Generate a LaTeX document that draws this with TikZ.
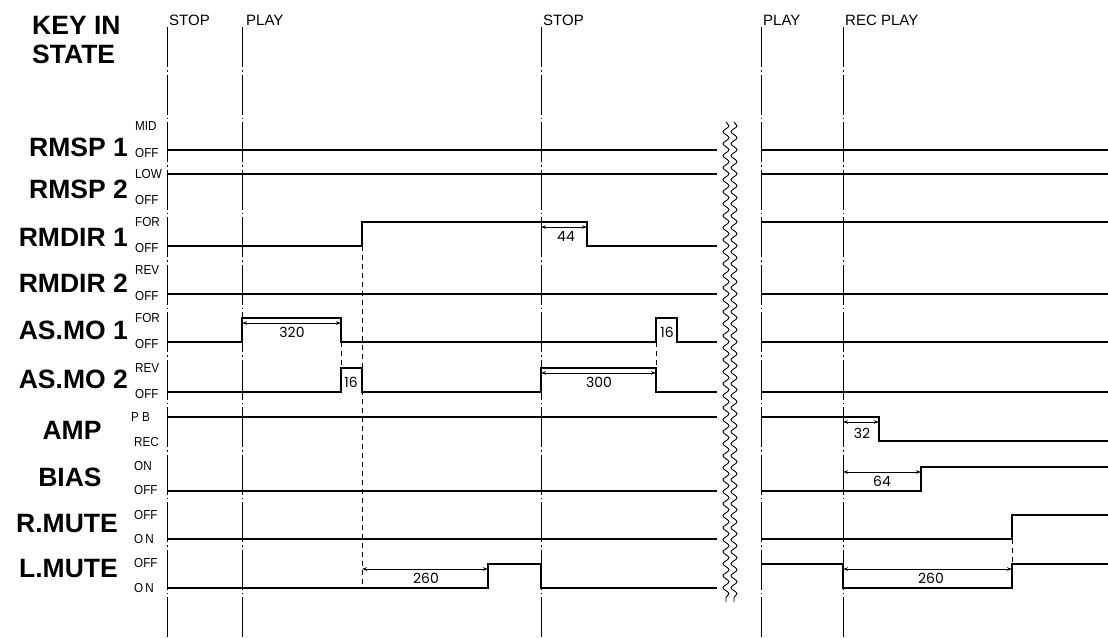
\documentclass[tikz,border=0pt]{standalone}
\usepackage{fontspec}
\setmainfont{Liberation Sans}
\newfontfamily\numfont{Poppins}
\newfontfamily\lvlfont[FakeStretch=0.9]{Liberation Sans}
\usetikzlibrary{arrows.meta,decorations.pathmorphing}
\begin{document}
\begin{tikzpicture}[x=1pt,y=-1pt,
  sig/.style={line width=2pt, line join=miter},
  keyline/.style={line width=0.9pt, dash pattern=on 40pt off 3pt on 1.5pt off 3pt},
  guide/.style={line width=0.9pt, dash pattern=on 5pt off 4pt},
  dim/.style={line width=0.9pt, {Stealth[length=5pt,width=3.5pt]}-{Stealth[length=5pt,width=3.5pt]}},
  biglab/.style={font=\fontsize{26.5}{28}\selectfont\bfseries, inner sep=0pt},
  lvl/.style={font=\lvlfont\fontsize{13}{14}\selectfont, inner sep=0pt, anchor=west},
  keylab/.style={font=\fontsize{15}{16}\selectfont, inner sep=0pt, anchor=base west},
  num/.style={font=\numfont\fontsize{14}{15}\selectfont, inner sep=0pt},
  wave/.style={line width=0.9pt, decorate, decoration={snake, segment length=12pt, amplitude=3pt}}
]
\useasboundingbox (0,0) rectangle (1108,637);

% ---- key-in state labels and chain lines
\node[keylab] (kstop1) at (169,25) {STOP};
\node[keylab] (kplay1) at (246,25) {PLAY};
\node[keylab] (kstop2) at (543,25) {STOP};
\node[keylab] (kplay2) at (763,25) {PLAY};
\node[keylab] (krec)   at (845,25) {REC PLAY};
\foreach \x/\n in {167/a,242/b,541/c,761/d,843/e}{
  \coordinate (top\n) at (\x,27);
  \coordinate (bot\n) at (\x,637);
  \draw[keyline] (top\n) -- (bot\n);
}

% ---- left titles
\node[biglab, anchor=west] (key)   at (32,25) {KEY IN};
\node[biglab, anchor=west] (state) at (32,54) {STATE};
\node[biglab, anchor=east] (n1) at (128,147) {RMSP 1};
\node[biglab, anchor=east] (n2) at (128,189) {RMSP 2};
\node[biglab, anchor=east] (n3) at (128,237) {RMDIR 1};
\node[biglab, anchor=east] (n4) at (128,283) {RMDIR 2};
\node[biglab, anchor=east] (n5) at (128,330) {AS.MO 1};
\node[biglab, anchor=east] (n6) at (128,379) {AS.MO 2};
\node[biglab] (n7) at (72,430) {AMP};
\node[biglab] (n8) at (70,477) {BIAS};
\node[biglab, anchor=east] (n9) at (118,524) {R.MUTE};
\node[biglab, anchor=east] (n10) at (118,569) {L.MUTE};

% ---- level labels
\node[lvl] (h1) at (135,126) {MID};   \node[lvl] (o1) at (135,153) {OFF};
\node[lvl] (h2) at (135,174) {LOW};   \node[lvl] (o2) at (135,200) {OFF};
\node[lvl] (h3) at (135,222) {FOR};   \node[lvl] (o3) at (135,248) {OFF};
\node[lvl] (h4) at (135,270) {REV};   \node[lvl] (o4) at (135,296) {OFF};
\node[lvl] (h5) at (135,318) {FOR};   \node[lvl] (o5) at (135,344) {OFF};
\node[lvl] (h6) at (135,368) {REV};   \node[lvl] (o6) at (135,394) {OFF};
\node[lvl] (h7) at (131,417) {P\hspace{3pt}B}; \node[lvl] (o7) at (134,442) {REC};
\node[lvl] (h8) at (134,466) {ON};    \node[lvl] (o8) at (134,490) {OFF};
\node[lvl] (h9) at (134,515) {OFF};   \node[lvl] (o9) at (134,539) {O\hspace{2pt}N};
\node[lvl] (h10) at (134,563) {OFF};  \node[lvl] (o10) at (134,588) {O\hspace{2pt}N};

% ---- guide dashed lines
\draw[guide] (362,246) -- (362,588);
\draw[guide] (341,342) -- (341,368);
\draw[guide] (656,342) -- (656,368);
\draw[guide] (1012,539) -- (1012,564);

% ---- signals (left part)
\draw[sig] (167,150) -- (717,150);
\draw[sig] (167,174) -- (717,174);
\draw[sig] (167,246) -- (362,246) -- (362,222) -- (587,222) -- (587,246) -- (717,246);
\draw[sig] (167,294) -- (717,294);
\draw[sig] (167,342) -- (242,342) -- (242,318) -- (341,318) -- (341,342) -- (656,342) -- (656,318) -- (677,318) -- (677,342) -- (717,342);
\draw[sig] (167,392) -- (341,392) -- (341,368) -- (362,368) -- (362,392) -- (541,392) -- (541,368) -- (656,368) -- (656,392) -- (717,392);
\draw[sig] (167,417) -- (717,417);
\draw[sig] (167,491) -- (717,491);
\draw[sig] (167,539) -- (717,539);
\draw[sig] (167,588) -- (488,588) -- (488,564) -- (541,564) -- (541,588) -- (717,588);

% ---- signals (right part)
\draw[sig] (761,150) -- (1108,150);
\draw[sig] (761,174) -- (1108,174);
\draw[sig] (761,222) -- (1108,222);
\draw[sig] (761,294) -- (1108,294);
\draw[sig] (761,342) -- (1108,342);
\draw[sig] (761,392) -- (1108,392);
\draw[sig] (761,417) -- (879,417) -- (879,441) -- (1108,441);
\draw[sig] (761,491) -- (921,491) -- (921,467) -- (1108,467);
\draw[sig] (761,539) -- (1012,539) -- (1012,515) -- (1108,515);
\draw[sig] (761,564) -- (843,564) -- (843,588) -- (1012,588) -- (1012,564) -- (1108,564);

% ---- break mark
\draw[wave] (726,122) -- (726,602);
\draw[wave] (734,122) -- (734,602);

% ---- dimensions
\coordinate (d1a) at (541,227); \coordinate (d1b) at (587,227);
\draw[dim] (d1a) -- (d1b);
\node[num] (t44) at (566,236) {44};
\coordinate (d2a) at (242,323); \coordinate (d2b) at (341,323);
\draw[dim] (d2a) -- (d2b);
\node[num] (t320) at (292,332) {320};
\coordinate (d3a) at (541,373); \coordinate (d3b) at (656,373);
\draw[dim] (d3a) -- (d3b);
\node[num] (t300) at (599,382) {300};
\node[num] (t16a) at (351,382) {16};
\node[num] (t16b) at (667,332) {16};
\coordinate (d4a) at (362,569); \coordinate (d4b) at (488,569);
\draw[dim] (d4a) -- (d4b);
\node[num] (t260a) at (426,578) {260};
\coordinate (d5a) at (843,422); \coordinate (d5b) at (879,422);
\draw[dim] (d5a) -- (d5b);
\node[num] (t32) at (862,433) {32};
\coordinate (d6a) at (843,472); \coordinate (d6b) at (921,472);
\draw[dim] (d6a) -- (d6b);
\node[num] (t64) at (882,481) {64};
\coordinate (d7a) at (843,569); \coordinate (d7b) at (1012,569);
\draw[dim] (d7a) -- (d7b);
\node[num] (t260b) at (931,578) {260};
\end{tikzpicture}
\end{document}
